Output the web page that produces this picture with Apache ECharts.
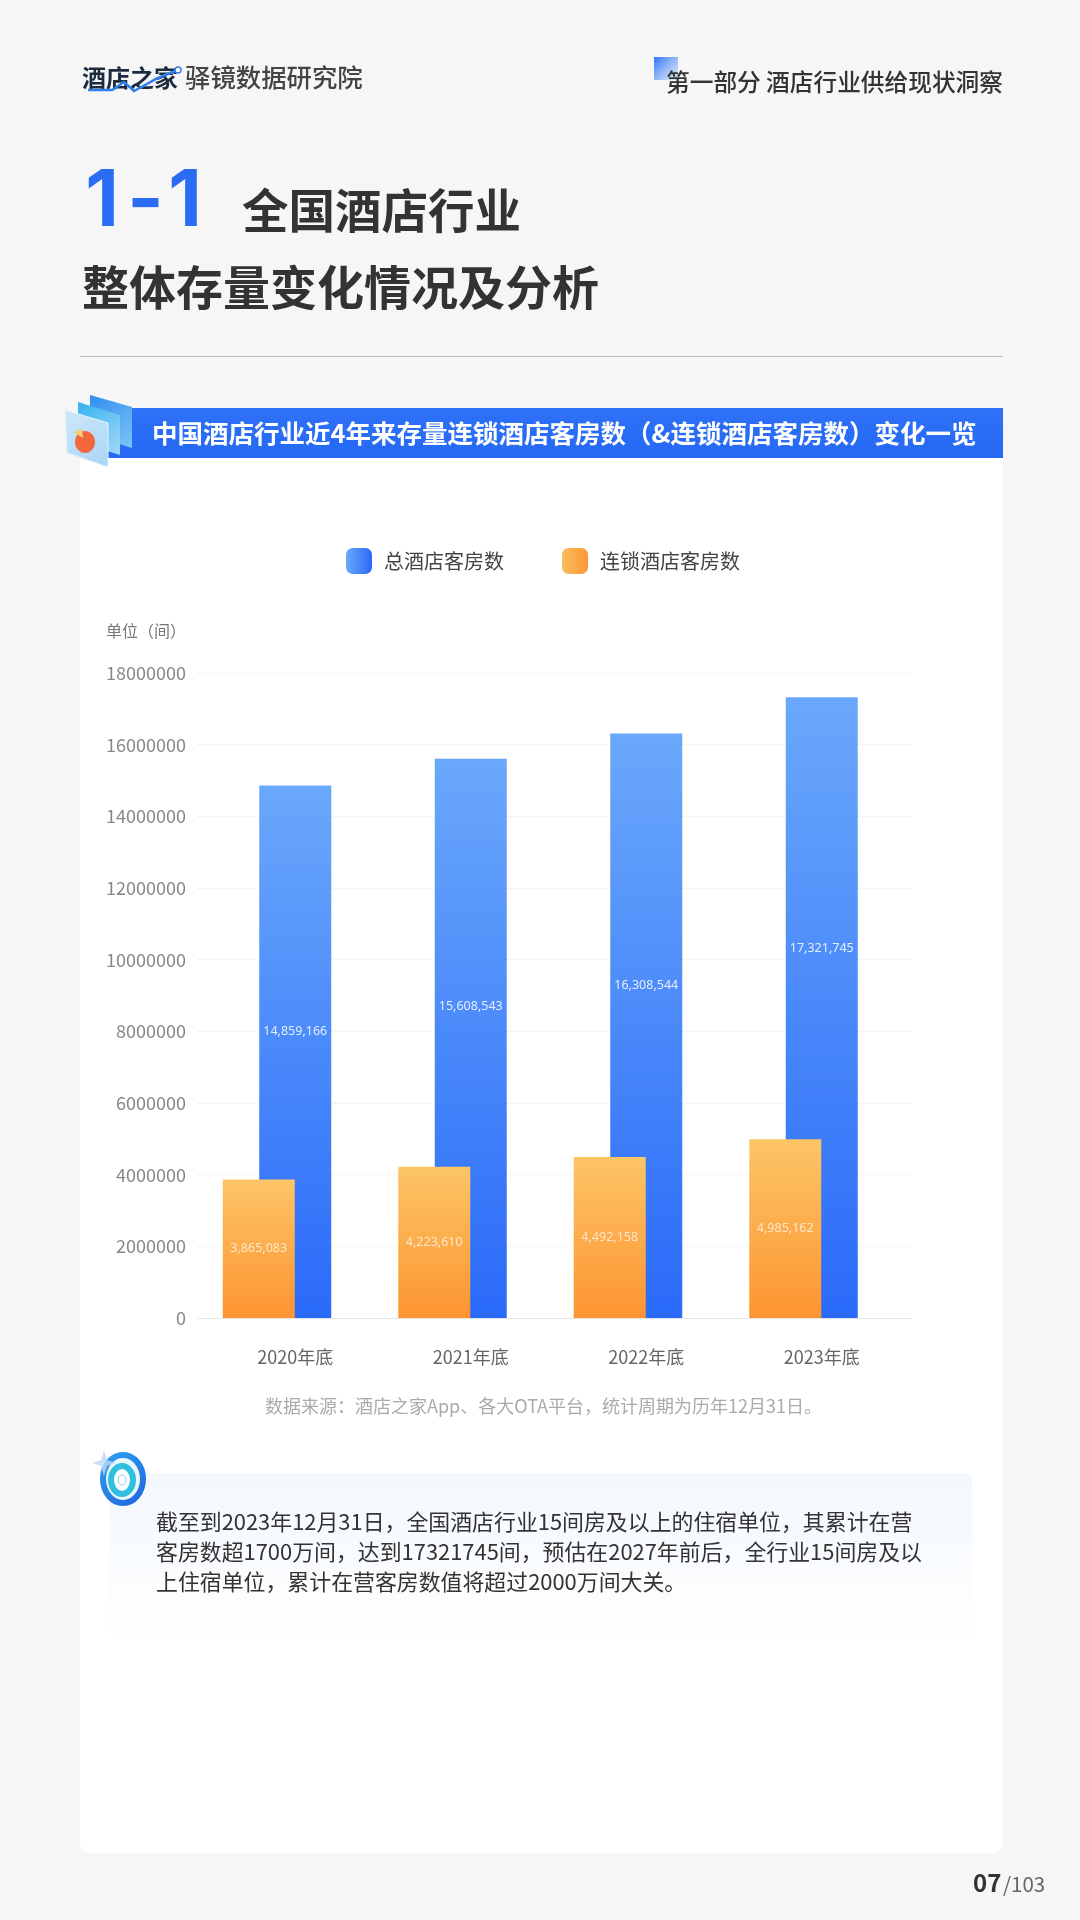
<!DOCTYPE html>
<html>
<head>
<meta charset="utf-8">
<style>html,body{margin:0;padding:0;background:#f6f6f6}#c{width:1080px;height:1920px}</style>
<script src="https://cdn.jsdelivr.net/npm/echarts@6/dist/echarts.min.js"></script>
</head>
<body>
<div id="c"></div>
<script>
const categories = ['2020年底', '2021年底', '2022年底', '2023年底'];
const totalRooms = [14859166, 15608543, 16308544, 17321745];
const chainRooms = [3865083, 4223610, 4492158, 4985162];
const totalName = '总酒店客房数';
const chainName = '连锁酒店客房数';
const unitLabel = '单位（间）';
const sourceNote = '数据来源：酒店之家App、各大OTA平台，统计周期为历年12月31日。';
const noteLines = [
  '截至到2023年12月31日，全国酒店行业15间房及以上的住宿单位，其累计在营',
  '客房数超1700万间，达到17321745间，预估在2027年前后，全行业15间房及以',
  '上住宿单位，累计在营客房数值将超过2000万间大关。'
];
const totalLabelLift = [20, 32, 40, 59];

const CJK = '"Noto Sans CJK SC","Noto Sans",sans-serif';
const lin = (x, y, x2, y2, a, b) => ({type:'linear',x,y,x2,y2,colorStops:[{offset:0,color:a},{offset:1,color:b}]});
const fmt = v => v.toLocaleString('en-US');

const T = (x, y, text, size, weight, fill, align, family) => ({
  type:'text', z:-1, x, y,
  style:{text, font:`${weight} ${size}px ${family||CJK}`, fill, align:align||'left', verticalAlign:'middle'}
});
const R = (x, y, width, height, fill, r) => ({type:'rect', z:-2, shape:{x,y,width,height,r:r||0}, style:{fill}});
const P = (points, fill, stroke) => ({type:'polygon', z:-1, shape:{points}, style:{fill, stroke:stroke||null, lineWidth:1}});
const E = (cx, cy, rx, ry, fill, stroke, lineWidth) => ({type:'ellipse', z:-1, shape:{cx,cy,rx,ry}, style:{fill, stroke, lineWidth}});
const LATIN = 'Inter,"Noto Sans",sans-serif';

const graphics = [
  // card and header band
  R(80, 440, 923, 1413, '#ffffff', [0,0,10,10]),
  R(80, 408, 923, 50, lin(0,0,0,1,'#2f71f7','#2468f4')),
  R(80, 356, 923, 1, '#bdbdbd'),
  // top left brand
  T(82, 78, '酒店之家', 24, 700, '#1d2b40'),
  {type:'polyline', z:0, shape:{points:[[88,90],[112,90],[124,82],[134,91],[158,78],[175,71]]}, style:{stroke:'#2f80ed', lineWidth:2.5, fill:null}},
  E(178, 70, 3, 3, '#ffffff', '#2f80ed', 1.5),
  T(185, 77, '驿镜数据研究院', 25.4, 500, '#444444'),
  // top right section
  R(654, 57, 24, 23, lin(0,0,1,1,'#2f71f7','rgba(120,170,250,0.2)')),
  T(666, 82, '第一部分 酒店行业供给现状洞察', 23.7, 500, '#333333'),
  // title
  T(119, 203, '1', 78, 700, '#2b6cf5', 'right', LATIN),
  T(145.5, 203, '-', 78, 700, '#2b6cf5', 'center', LATIN),
  T(202, 203, '1', 78, 700, '#2b6cf5', 'right', LATIN),
  T(242, 210, '全国酒店行业', 46.5, 700, '#333333'),
  T(82, 287, '整体存量变化情况及分析', 47, 700, '#333333'),
  // band heading
  T(152, 433, '中国酒店行业近4年来存量连锁酒店客房数（&连锁酒店客房数）变化一览', 25.5, 700, '#ffffff'),
  // band icon
  P([[90,395],[132,407],[132,448],[90,435]], lin(0,0,1,1,'#2f8fee','#7cc4f6')),
  P([[78,402],[120,415],[120,455],[78,442]], lin(0,0,1,1,'#35b2ef','#a3d8f8')),
  P([[65,410],[108,423],[108,467],[67,453]], lin(0,0,1,1,'#cfe8fa','#a8d4f5'), '#e8f4fd'),
  E(85, 442, 10, 11, '#f4673c', null, 0),
  P([[73,432],[82,429],[83,438]], '#f6cf73'),
  // note box
  R(109, 1473, 863, 175, lin(0,0,0,1,'#f3f8fd','#ffffff'), 6),
  // target icon
  E(123, 1479, 20, 24, '#e9f8fc', lin(0,0,1,1,'#2fa4ee','#1f62e0'), 6),
  E(122, 1480, 11, 14, '#ffffff', '#2fc0e0', 6),
  E(122, 1480, 4, 5, '#ffffff', '#7fdbe8', 1),
  P([[104,1450],[107,1460],[116,1463],[107,1466],[104,1476],[101,1466],[92,1463],[101,1460]], 'rgba(190,215,250,0.8)'),
  // note and source text
  T(156, 1522, noteLines[0], 21.9, 400, '#333333'),
  T(156, 1552, noteLines[1], 21.9, 400, '#333333'),
  T(156, 1582, noteLines[2], 21.9, 400, '#333333'),
  T(265, 1406, sourceNote, 18, 400, '#aaaaaa'),
  // page number
  T(973, 1883, '07', 24, 700, '#333333'),
  T(1003, 1884, '/103', 20.5, 400, '#666666')
];

const GRID_TOP = 673, GRID_H = 645;
const hiddenY = gridIndex => ({type:'value', gridIndex, min:0, max:18000000, interval:2000000, show:false});
const chart = echarts.init(document.getElementById('c'), null, {width:1080, height:1920});
chart.setOption({
  animation:false,
  backgroundColor:'#f6f6f6',
  graphic:{elements:graphics},
  legend:{
    left:341, top:543, itemWidth:26, itemHeight:26, itemGap:58, icon:'roundRect',
    textStyle:{fontFamily:CJK, fontSize:20, color:'#444444', padding:[0,0,0,7]},
    data:[
      {name:totalName, itemStyle:{color:lin(0,0,1,0,'#6aa8fb','#2a6af6')}},
      {name:chainName, itemStyle:{color:lin(0,0,1,0,'#fbbd62','#fd9633')}}
    ]
  },
  grid:[
    {left:198, width:713, top:GRID_TOP, height:GRID_H},
    {left:207.5, width:702, top:GRID_TOP, height:GRID_H},
    {left:171, width:702, top:GRID_TOP, height:GRID_H}
  ],
  xAxis:[
    {type:'category', gridIndex:0, data:categories, axisTick:{show:false}, axisLabel:{show:false},
     axisLine:{lineStyle:{color:'#e3e3e3'}}},
    {type:'category', gridIndex:1, data:categories, axisTick:{show:false}, axisLine:{show:false},
     axisLabel:{fontFamily:CJK, fontSize:18, color:'#666666', margin:30}},
    {type:'category', gridIndex:2, data:categories, show:false}
  ],
  yAxis:[
    {type:'value', gridIndex:0, min:0, max:18000000, interval:2000000,
     name:unitLabel, nameLocation:'end', nameGap:34,
     nameTextStyle:{fontFamily:CJK, fontSize:16, color:'#777777', align:'right', padding:[0,12,0,0]},
     axisLine:{show:false}, axisTick:{show:false},
     axisLabel:{fontFamily:CJK, fontSize:18, color:'#888888', margin:12, formatter:v=>String(v)},
     splitLine:{lineStyle:{color:'#ececec', type:[2,2]}}},
    hiddenY(1),
    hiddenY(2)
  ],
  series:[
    {name:totalName, type:'bar', xAxisIndex:1, yAxisIndex:1, barWidth:72,
     itemStyle:{color:lin(0,0,0,1,'#6aa8fb','#2a6af9')},
     data:totalRooms.map((value,i)=>({value, label:{offset:[0,-totalLabelLift[i]]}})),
     label:{show:true, position:'inside', formatter:p=>fmt(p.value), fontFamily:'"Noto Sans",sans-serif', fontSize:12.5, color:'rgba(255,255,255,0.85)'}},
    {name:chainName, type:'bar', xAxisIndex:2, yAxisIndex:2, barWidth:72,
     itemStyle:{color:lin(0,0,0,1,'#fcc566','#fd9431')},
     data:chainRooms,
     label:{show:true, position:'inside', formatter:p=>fmt(p.value), fontFamily:'"Noto Sans",sans-serif', fontSize:12.5, color:'rgba(255,255,255,0.7)'}}
  ]
});
</script>
</body>
</html>
